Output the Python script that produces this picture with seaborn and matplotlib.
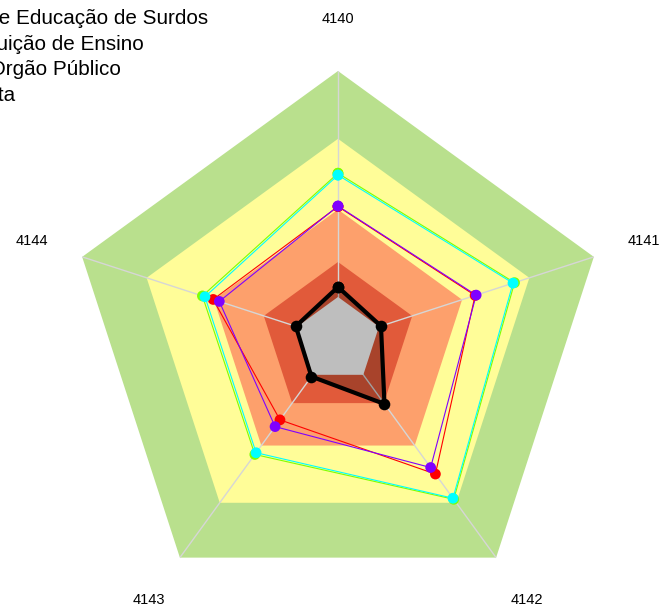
import numpy as np
import pandas as pd
import matplotlib
matplotlib.use('Agg')
import matplotlib.pyplot as plt
import seaborn as sns
from matplotlib.lines import Line2D

# axes of the radar (clockwise from the top)
categories = ['4140', '4141', '4142', '4143', '4144']

# background bands, as % of the outer ring
band_levels = [100, 74.8, 48.5, 29.0]
band_colors = ['#B9E08D', '#FFFD98', '#FDA06C', '#E15A3A']
core_level = 16.0
core_color = '#BEBEBE'

# series values (% of outer ring)
red_values = [49.6, 53.6, 61.6, 36.7, 48.8]
lime_values = [62.0, 69.0, 73.2, 52.6, 53.0]
cyan_values = [61.3, 68.4, 72.7, 51.8, 52.0]
purple_values = [49.8, 54.0, 58.6, 39.8, 46.4]
black_values = [19.7, 16.8, 29.4, 16.8, 16.5]

series_names = ['Int. de Educação de Surdos', 'Instituição de Ensino',
                'Em Orgão Público', 'Autista']
series_colors = ['#FF0000', '#80FF00', '#00FFFF', '#8000FF']
series_values = [red_values, lime_values, cyan_values, purple_values]

sns.set_theme(style='white')
plt.rcParams['font.family'] = ['Liberation Sans', 'DejaVu Sans']
plt.rcParams['text.color'] = 'black'

angles = np.linspace(0, 2 * np.pi, len(categories), endpoint=False)
closed = np.append(angles, angles[0])

rows = []
for name, vals in zip(series_names, series_values):
    for a, v in zip(closed, vals + vals[:1]):
        rows.append({'theta': a, 'value': v, 'series': name})
df = pd.DataFrame(rows)
df_black = pd.DataFrame({'theta': closed, 'value': black_values + black_values[:1]})

fig = plt.figure(figsize=(6.63, 6.10), dpi=100)
ax = fig.add_axes([69 / 663, 1 / 610, 538 / 663, 538 / 610], projection='polar')
ax.set_theta_offset(np.pi / 2)
ax.set_theta_direction(-1)
ax.patch.set_visible(False)

for level, color in zip(band_levels, band_colors):
    ax.fill(closed, [level] * len(closed), color=color, lw=0, zorder=1)
for a in angles:
    ax.plot([a, a], [0, 100], color='#D6D6D6', lw=1, zorder=1.5)

ax.fill(df_black['theta'], df_black['value'], color='black', alpha=0.25, lw=0, zorder=2)
ax.fill(closed, [core_level] * len(closed), color=core_color, lw=0, zorder=2.5)

palette = dict(zip(series_names, series_colors))
sns.lineplot(data=df, x='theta', y='value', hue='series', hue_order=series_names,
             palette=palette, sort=False, estimator=None, lw=0.8, legend=False,
             ax=ax, zorder=4)
sns.scatterplot(data=df, x='theta', y='value', hue='series', hue_order=series_names,
                palette=palette, s=60, linewidth=0, legend=False, ax=ax, zorder=5)

sns.lineplot(data=df_black, x='theta', y='value', color='black', sort=False,
             estimator=None, lw=3, ax=ax, zorder=6)
sns.scatterplot(data=df_black, x='theta', y='value', color='black', s=70,
                linewidth=0, ax=ax, zorder=7)

ax.set_ylim(0, 100)
ax.set_yticks([])
ax.set_xticks(angles)
ax.set_xticklabels([])
for a, lab in zip(angles, categories):
    ax.text(a, 119.5, lab, ha='center', va='center', fontsize=10.5, color='black')
ax.grid(False)
ax.spines['polar'].set_visible(False)
ax.set_xlabel('')
ax.set_ylabel('')

handles = [Line2D([], [], color=c, marker='o', linestyle='', markersize=6) for c in series_colors]
fs = 14.9
x0 = -(2250 * fs * 100 / 72 / 1000 + 1.5 * fs * 100 / 72) / 663
fig.legend(handles, series_names, loc='upper left', bbox_to_anchor=(x0, 1 - 9.5 / 610),
           frameon=False, fontsize=fs, handlelength=1, handletextpad=0.5,
           borderpad=0, borderaxespad=0, labelspacing=0.31, labelcolor='black')

fig.savefig('out.png', dpi=100)
